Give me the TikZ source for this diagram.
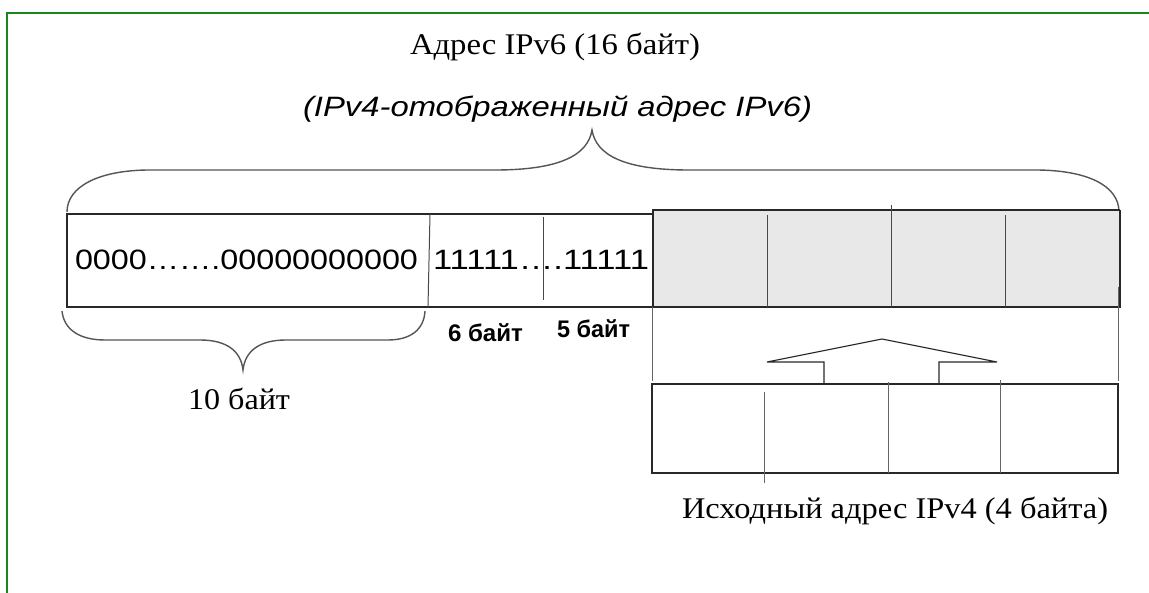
\documentclass[tikz,border=0pt]{standalone}
\usepackage{fontspec}
\setmainfont{Liberation Serif}
\setsansfont{Liberation Sans}
\usepackage{graphicx}
\newcommand\fitto[2]{\resizebox{#1}{\height}{#2}}
\definecolor{framegreen}{RGB}{25,135,25}
\definecolor{cellgray}{RGB}{232,232,232}
\definecolor{linedark}{RGB}{40,40,40}
\definecolor{bracegray}{RGB}{85,85,85}
\tikzset{
  lbl/.style={anchor=base west, inner sep=0pt, outer sep=0pt, text=black},
  serif/.style={font=\fontsize{30}{36}\selectfont\rmfamily},
  sans/.style={font=\fontsize{28}{34}\selectfont\sffamily},
  sansit/.style={font=\fontsize{28}{34}\selectfont\sffamily\itshape},
  sansbold/.style={font=\fontsize{24}{29}\selectfont\sffamily\bfseries},
  boxline/.style={draw=linedark, line width=1.3pt},
  divline/.style={draw=linedark!85, line width=1pt},
  thinline/.style={draw=black!60, line width=0.8pt},
  brace/.style={draw=bracegray, line width=1.4pt},
}
\begin{document}
\begin{tikzpicture}[x=1pt,y=-1pt]
\useasboundingbox (0,0) rectangle (1149,593);
% frame
\draw[framegreen, line width=2pt] (7,593) -- (7,13) -- (1149,13);

% texts
\node[lbl,serif] (title) at (410,55) {\fitto{290pt}{Адрес IPv6 (16 байт)}};
\node[lbl,sansit] (subtitle) at (303,117) {\fitto{509pt}{(IPv4-отображенный адрес IPv6)}};

% top brace
\coordinate (tbL) at (67,212);
\coordinate (tbT) at (592,130);
\coordinate (tbR) at (1119,212);
\draw[brace] (tbL) .. controls (67,186) and (100,170) .. (150,170) -- (495,170)
  .. controls (560,170) and (588,155) .. (tbT)
  .. controls (596,155) and (624,170) .. (689,170) -- (1035,170)
  .. controls (1088,170) and (1119,186) .. (tbR);

% main IPv6 cells
\fill[cellgray] (653,210) rectangle (1120,307);
\draw[boxline] (67,214) rectangle (653,307);
\draw[boxline] (653,307) -- (653,210) -- (1120,210);
\draw[draw=linedark, line width=2.4pt] (652,307) -- (1120,307) -- (1120,210);
\draw[divline] (430,214) -- (428,307);
\draw[divline] (543,217) -- (543,300);
\draw[divline] (767,215) -- (767,307);
\draw[divline] (891,205) -- (891,307);
\draw[divline] (1005,215) -- (1005,307);

\node[lbl,sans] (zeros) at (75,270) {\fitto{343pt}{0000…….00000000000}};
\node[lbl,sans] (ones) at (433,270) {\fitto{216pt}{11111….11111}};

% bottom brace
\coordinate (bbL) at (62,311);
\coordinate (bbT) at (243,370);
\coordinate (bbR) at (425,311);
\draw[brace] (bbL) .. controls (64,330) and (80,340) .. (105,340) -- (200,340)
  .. controls (228,340) and (241,352) .. (bbT)
  .. controls (245,352) and (258,340) .. (286,340) -- (388,340)
  .. controls (410,340) and (424,330) .. (bbR);

\node[lbl,serif] (ten) at (188,410) {\fitto{102pt}{10 байт}};
\node[lbl,sansbold] (six) at (448,342) {\fitto{75pt}{6 байт}};
\node[lbl,sansbold] (five) at (557,338) {\fitto{73pt}{5 байт}};

% guide lines
\draw[thinline] (652,307) -- (652,381);
\draw[thinline] (1118,287) -- (1118,381);

% IPv4 box
\draw[boxline] (652,384) rectangle (1118,473);
\draw[thinline] (764,392) -- (764,483);
\draw[thinline] (888,382) -- (888,473);
\draw[thinline] (1000,380) -- (1000,473);

% arrow
\draw[boxline, line width=1.1pt, line join=miter] (824,383) -- (824,362) -- (767,362) -- (882,339) -- (997,362) -- (939,362) -- (939,383);

\node[lbl,serif] (src) at (682,518) {\fitto{426pt}{Исходный адрес IPv4 (4 байта)}};
\end{tikzpicture}
\end{document}
